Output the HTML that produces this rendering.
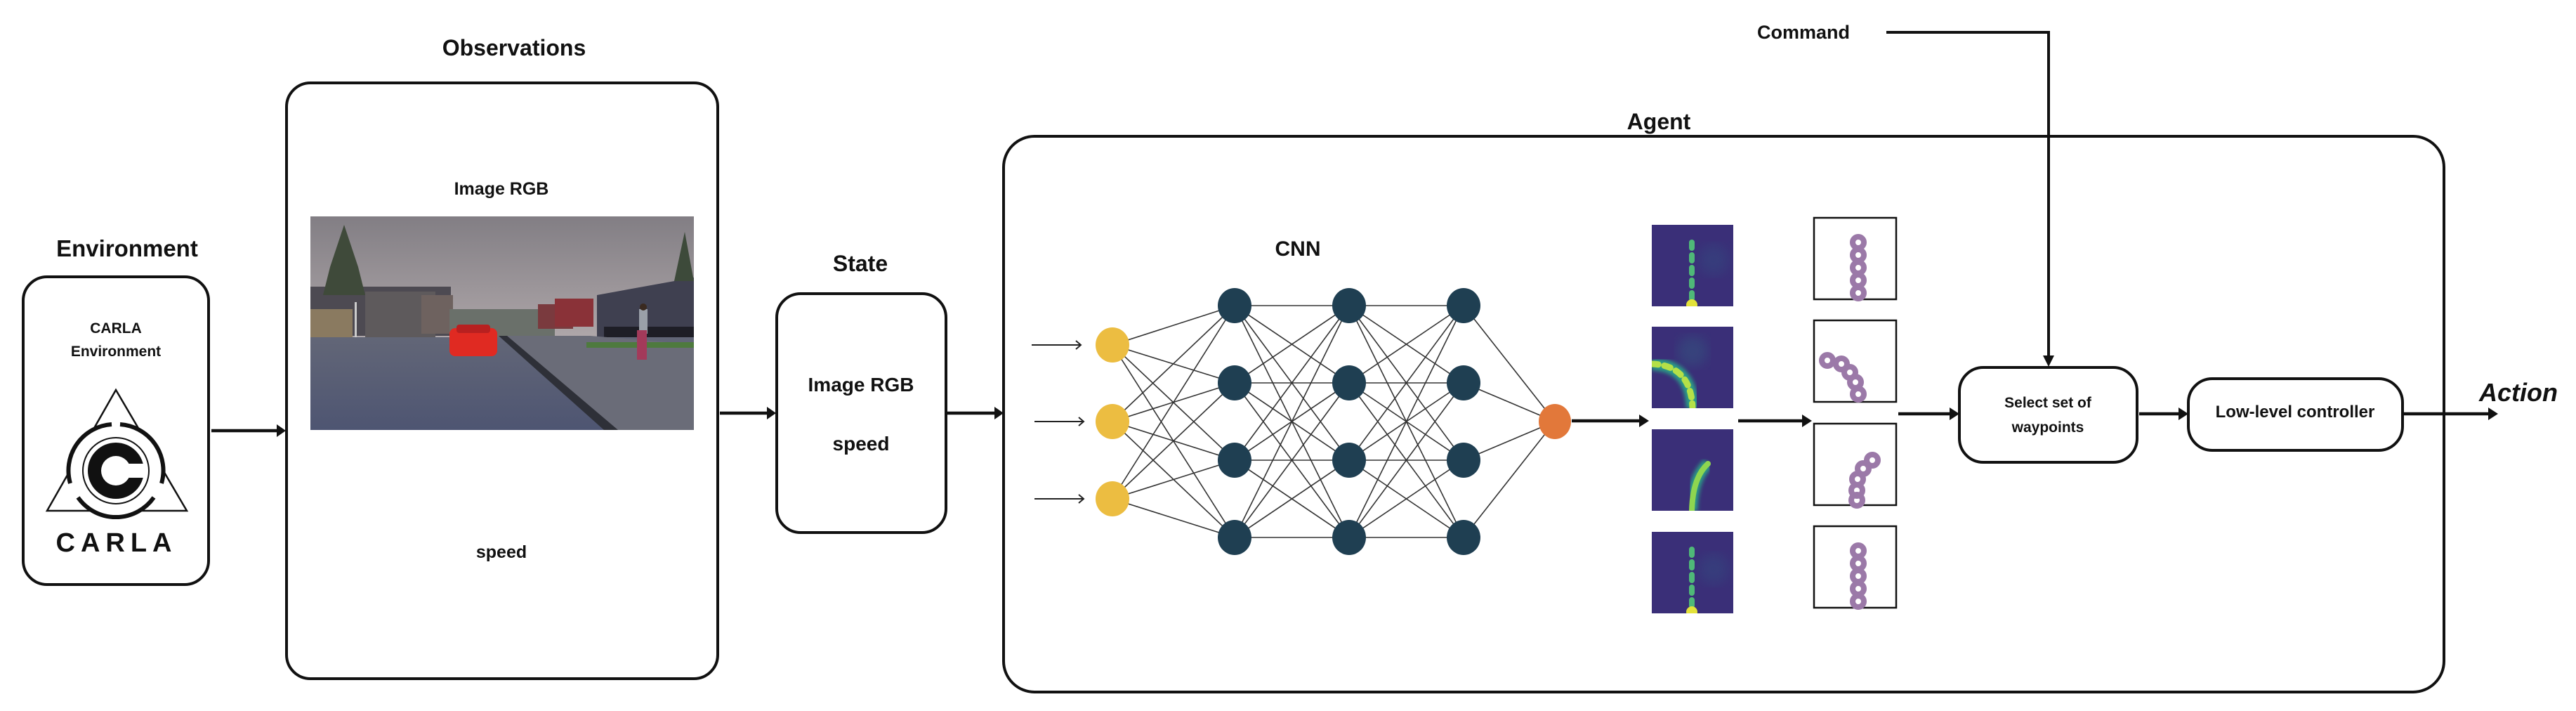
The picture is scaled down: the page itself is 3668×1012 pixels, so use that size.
<!DOCTYPE html>
<html><head><meta charset="utf-8"><style>
html,body{margin:0;padding:0;background:#fff}
svg{display:block}
text{font-family:"Liberation Sans",sans-serif;font-weight:bold;fill:#111}
</style></head><body>
<svg width="3668" height="1012" viewBox="0 0 3668 1012" xmlns="http://www.w3.org/2000/svg">
<defs>
<linearGradient id="sky" x1="0" y1="0" x2="0" y2="1">
<stop offset="0" stop-color="#827e84"/><stop offset="0.5" stop-color="#a8a1a4"/><stop offset="1" stop-color="#dcd2d0"/>
</linearGradient>
<linearGradient id="road" x1="0" y1="0" x2="0" y2="1">
<stop offset="0" stop-color="#626677"/><stop offset="1" stop-color="#4e5572"/>
</linearGradient>
<filter id="blur"><feGaussianBlur stdDeviation="3"/></filter>
<filter id="blur2"><feGaussianBlur stdDeviation="8"/></filter>
<clipPath id="h1"><rect x="2352" y="320" width="116" height="116"/></clipPath>
<clipPath id="h2"><rect x="2352" y="465" width="116" height="116"/></clipPath>
<clipPath id="h3"><rect x="2352" y="611" width="116" height="116"/></clipPath>
<clipPath id="h4"><rect x="2352" y="757" width="116" height="116"/></clipPath>
<clipPath id="ph"><rect x="442" y="308" width="546" height="304"/></clipPath>
</defs>

<text x="732" y="79" font-size="32" text-anchor="middle">Observations</text>
<text x="181" y="365" font-size="33" text-anchor="middle">Environment</text>
<text x="1225" y="386" font-size="32" text-anchor="middle">State</text>
<text x="2362" y="184" font-size="32" text-anchor="middle">Agent</text>
<text x="2568" y="55" font-size="27" text-anchor="middle">Command</text>
<text x="1848" y="364" font-size="30" text-anchor="middle">CNN</text>
<text x="3530" y="571" font-size="36" font-style="italic">Action</text>

<rect x="33" y="394" width="264" height="438" rx="34" fill="none" stroke="#111" stroke-width="4"/>
<text x="165" y="474" font-size="21" text-anchor="middle">CARLA</text>
<text x="165" y="507" font-size="21" text-anchor="middle">Environment</text>
<polygon points="165,555 67,727 266,727" fill="none" stroke="#111" stroke-width="2.5"/>
<circle cx="165" cy="670" r="66" fill="#fff"/>
<g fill="none" stroke="#111" stroke-width="6">
<path d="M 159 604 A 66 66 0 0 0 100 688"/>
<path d="M 111 708 A 66 66 0 0 0 219 708"/>
<path d="M 230 688 A 66 66 0 0 0 171 604"/>
</g>
<circle cx="165" cy="670" r="47" fill="none" stroke="#111" stroke-width="2"/>
<circle cx="165" cy="670" r="40" fill="#111"/>
<circle cx="165" cy="670" r="21" fill="#fff"/>
<rect x="165" y="660" width="42" height="20" fill="#fff"/>
<text x="166" y="785" font-size="38" text-anchor="middle" letter-spacing="8" font-weight="900">CARLA</text>

<rect x="408" y="118" width="614" height="848" rx="34" fill="none" stroke="#111" stroke-width="4"/>
<text x="714" y="277" font-size="25" text-anchor="middle">Image RGB</text>
<text x="714" y="794" font-size="25" text-anchor="middle">speed</text>
<g clip-path="url(#ph)">
<rect x="442" y="308" width="546" height="304" fill="url(#sky)"/>
<rect x="442" y="408" width="200" height="70" fill="#4d4a52"/>
<rect x="520" y="415" width="100" height="65" fill="#5e5a5c"/>
<rect x="600" y="420" width="45" height="55" fill="#6e625f"/>
<rect x="442" y="440" width="60" height="40" fill="#8a7a60"/>
<polygon points="490,320 470,380 460,420 520,420 510,380" fill="#3f4a3a"/>
<rect x="505" y="430" width="3" height="50" fill="#ccc"/>
<rect x="640" y="440" width="150" height="40" fill="#6a706a"/>
<rect x="766" y="433" width="50" height="35" fill="#7a3a3e"/>
<rect x="790" y="425" width="55" height="40" fill="#8a3238"/>
<polygon points="850,420 988,395 988,480 850,480" fill="#3f4050"/>
<rect x="860" y="465" width="128" height="20" fill="#1e1e26"/>
<polygon points="975,330 960,400 988,400" fill="#3d4a3a"/>
<rect x="442" y="480" width="546" height="132" fill="url(#road)"/>
<polygon points="710,478 870,612 988,612 988,490 840,478" fill="#6a6c78"/>
<polygon points="710,478 860,612 880,612 722,478" fill="#2e3038"/>
<rect x="835" y="487" width="153" height="8" fill="#4e7a3e"/>
<rect x="640" y="467" width="68" height="40" rx="8" fill="#e02a22"/>
<rect x="650" y="462" width="48" height="12" rx="4" fill="#b82020"/>
<rect x="910" y="440" width="12" height="35" fill="#9aa0a8"/>
<rect x="907" y="470" width="14" height="42" fill="#a33a5a"/>
<circle cx="916" cy="437" r="5" fill="#3a2a20"/>
</g>

<rect x="1106" y="418" width="241" height="340" rx="34" fill="none" stroke="#111" stroke-width="4"/>
<text x="1226" y="557" font-size="28" text-anchor="middle">Image RGB</text>
<text x="1226" y="641" font-size="28" text-anchor="middle">speed</text>

<rect x="1429" y="194" width="2051" height="791" rx="44" fill="none" stroke="#111" stroke-width="4"/>

<polyline points="2686,46 2917,46 2917,510" fill="none" stroke="#111" stroke-width="4"/>
<polygon points="2909,506 2925,506 2917,522" fill="#111"/>

<g stroke="#111" stroke-width="4.5" fill="none">
<line x1="301" y1="613" x2="396" y2="613"/>
<line x1="1025" y1="588" x2="1094" y2="588"/>
<line x1="1349" y1="588" x2="1418" y2="588"/>
<line x1="2238" y1="599" x2="2336" y2="599"/>
<line x1="2475" y1="599" x2="2568" y2="599"/>
<line x1="2703" y1="589" x2="2778" y2="589"/>
<line x1="3046" y1="589" x2="3104" y2="589"/>
<line x1="3421" y1="589" x2="3545" y2="589"/>
</g>
<g fill="#111">
<polygon points="394,604 407,613 394,622"/>
<polygon points="1092,579 1105,588 1092,597"/>
<polygon points="1416,579 1429,588 1416,597"/>
<polygon points="2334,590 2348,599 2334,608"/>
<polygon points="2566,590 2580,599 2566,608"/>
<polygon points="2776,580 2790,589 2776,598"/>
<polygon points="3102,580 3116,589 3102,598"/>
<polygon points="3543,580 3557,589 3543,598"/>
</g>

<g stroke="#222" stroke-width="2" fill="none">
<line x1="1469" y1="491" x2="1538" y2="491"/><polyline points="1532,485 1539,491 1532,497"/>
<line x1="1473" y1="600" x2="1542" y2="600"/><polyline points="1536,594 1543,600 1536,606"/>
<line x1="1473" y1="710" x2="1542" y2="710"/><polyline points="1536,704 1543,710 1536,716"/>
</g>

<g stroke="#333" stroke-width="1.6">
<line x1="1584" y1="491" x2="1758" y2="435"/><line x1="1584" y1="491" x2="1758" y2="545"/><line x1="1584" y1="491" x2="1758" y2="655"/><line x1="1584" y1="491" x2="1758" y2="765"/>
<line x1="1584" y1="600" x2="1758" y2="435"/><line x1="1584" y1="600" x2="1758" y2="545"/><line x1="1584" y1="600" x2="1758" y2="655"/><line x1="1584" y1="600" x2="1758" y2="765"/>
<line x1="1584" y1="710" x2="1758" y2="435"/><line x1="1584" y1="710" x2="1758" y2="545"/><line x1="1584" y1="710" x2="1758" y2="655"/><line x1="1584" y1="710" x2="1758" y2="765"/>
<line x1="1758" y1="435" x2="1921" y2="435"/><line x1="1758" y1="435" x2="1921" y2="545"/><line x1="1758" y1="435" x2="1921" y2="655"/><line x1="1758" y1="435" x2="1921" y2="765"/>
<line x1="1758" y1="545" x2="1921" y2="435"/><line x1="1758" y1="545" x2="1921" y2="545"/><line x1="1758" y1="545" x2="1921" y2="655"/><line x1="1758" y1="545" x2="1921" y2="765"/>
<line x1="1758" y1="655" x2="1921" y2="435"/><line x1="1758" y1="655" x2="1921" y2="545"/><line x1="1758" y1="655" x2="1921" y2="655"/><line x1="1758" y1="655" x2="1921" y2="765"/>
<line x1="1758" y1="765" x2="1921" y2="435"/><line x1="1758" y1="765" x2="1921" y2="545"/><line x1="1758" y1="765" x2="1921" y2="655"/><line x1="1758" y1="765" x2="1921" y2="765"/>
<line x1="1921" y1="435" x2="2084" y2="435"/><line x1="1921" y1="435" x2="2084" y2="545"/><line x1="1921" y1="435" x2="2084" y2="655"/><line x1="1921" y1="435" x2="2084" y2="765"/>
<line x1="1921" y1="545" x2="2084" y2="435"/><line x1="1921" y1="545" x2="2084" y2="545"/><line x1="1921" y1="545" x2="2084" y2="655"/><line x1="1921" y1="545" x2="2084" y2="765"/>
<line x1="1921" y1="655" x2="2084" y2="435"/><line x1="1921" y1="655" x2="2084" y2="545"/><line x1="1921" y1="655" x2="2084" y2="655"/><line x1="1921" y1="655" x2="2084" y2="765"/>
<line x1="1921" y1="765" x2="2084" y2="435"/><line x1="1921" y1="765" x2="2084" y2="545"/><line x1="1921" y1="765" x2="2084" y2="655"/><line x1="1921" y1="765" x2="2084" y2="765"/>
<line x1="2084" y1="435" x2="2214" y2="600"/><line x1="2084" y1="545" x2="2214" y2="600"/><line x1="2084" y1="655" x2="2214" y2="600"/><line x1="2084" y1="765" x2="2214" y2="600"/>
</g>
<g fill="#ecbd41">
<ellipse cx="1584" cy="491" rx="24" ry="25"/><ellipse cx="1584" cy="600" rx="24" ry="25"/><ellipse cx="1584" cy="710" rx="24" ry="25"/>
</g>
<g fill="#1f3f52">
<ellipse cx="1758" cy="435" rx="24" ry="25"/><ellipse cx="1758" cy="545" rx="24" ry="25"/><ellipse cx="1758" cy="655" rx="24" ry="25"/><ellipse cx="1758" cy="765" rx="24" ry="25"/>
<ellipse cx="1921" cy="435" rx="24" ry="25"/><ellipse cx="1921" cy="545" rx="24" ry="25"/><ellipse cx="1921" cy="655" rx="24" ry="25"/><ellipse cx="1921" cy="765" rx="24" ry="25"/>
<ellipse cx="2084" cy="435" rx="24" ry="25"/><ellipse cx="2084" cy="545" rx="24" ry="25"/><ellipse cx="2084" cy="655" rx="24" ry="25"/><ellipse cx="2084" cy="765" rx="24" ry="25"/>
</g>
<ellipse cx="2214" cy="600" rx="23" ry="25" fill="#e2783a"/>

<g clip-path="url(#h1)">
<rect x="2352" y="320" width="116" height="116" fill="#3a2f78"/>
<circle cx="2440" cy="370" r="22" fill="#34457f" filter="url(#blur2)" opacity="0.6"/>
<line x1="2409" y1="345" x2="2409" y2="436" stroke="#2b7d8a" stroke-width="14" filter="url(#blur)"/>
<line x1="2409" y1="345" x2="2409" y2="436" stroke="#4fb878" stroke-width="8" stroke-dasharray="8 10" stroke-linecap="round"/>
<circle cx="2409" cy="434" r="8" fill="#e3e23a"/>
</g>
<g clip-path="url(#h2)">
<rect x="2352" y="465" width="116" height="116" fill="#3a2f78"/>
<circle cx="2410" cy="500" r="22" fill="#34507f" filter="url(#blur2)" opacity="0.6"/>
<path d="M 2352 518 Q 2408 520 2410 581" fill="none" stroke="#2b9d86" stroke-width="18" filter="url(#blur)"/>
<path d="M 2352 518 Q 2408 520 2410 581" fill="none" stroke="#b4e048" stroke-width="9" stroke-dasharray="9 9" stroke-linecap="round"/>
</g>
<g clip-path="url(#h3)">
<rect x="2352" y="611" width="116" height="116" fill="#3a2f78"/>
<path d="M 2432 660 Q 2410 680 2409 727" fill="none" stroke="#2b9d86" stroke-width="16" filter="url(#blur)"/>
<path d="M 2432 660 Q 2410 680 2409 727" fill="none" stroke="#8ed650" stroke-width="8" stroke-linecap="round"/>
</g>
<g clip-path="url(#h4)">
<rect x="2352" y="757" width="116" height="116" fill="#3a2f78"/>
<circle cx="2440" cy="810" r="22" fill="#34457f" filter="url(#blur2)" opacity="0.6"/>
<line x1="2409" y1="782" x2="2409" y2="873" stroke="#2b7d8a" stroke-width="14" filter="url(#blur)"/>
<line x1="2409" y1="782" x2="2409" y2="873" stroke="#4fb878" stroke-width="8" stroke-dasharray="8 10" stroke-linecap="round"/>
<circle cx="2409" cy="871" r="8" fill="#e3e23a"/>
</g>

<g fill="#fff" stroke="#111" stroke-width="2.5">
<rect x="2583" y="310" width="117" height="116"/>
<rect x="2583" y="456" width="117" height="116"/>
<rect x="2583" y="603" width="117" height="116"/>
<rect x="2583" y="749" width="117" height="116"/>
</g>
<g fill="none" stroke="#9b79a8" stroke-width="8">
<circle cx="2646" cy="345" r="8"/><circle cx="2646" cy="363" r="8"/><circle cx="2646" cy="381" r="8"/><circle cx="2646" cy="399" r="8"/><circle cx="2646" cy="417" r="8"/>
<circle cx="2602" cy="513" r="8"/><circle cx="2622" cy="518" r="8"/><circle cx="2634" cy="530" r="8"/><circle cx="2642" cy="544" r="8"/><circle cx="2646" cy="561" r="8"/>
<circle cx="2666" cy="655" r="8"/><circle cx="2653" cy="667" r="8"/><circle cx="2645" cy="682" r="8"/><circle cx="2644" cy="698" r="8"/><circle cx="2644" cy="712" r="8"/>
<circle cx="2646" cy="784" r="8"/><circle cx="2646" cy="802" r="8"/><circle cx="2646" cy="820" r="8"/><circle cx="2646" cy="838" r="8"/><circle cx="2646" cy="856" r="8"/>
</g>

<rect x="2790" y="523" width="253" height="135" rx="34" fill="#fff" stroke="#111" stroke-width="4"/>
<text x="2916" y="580" font-size="21" text-anchor="middle">Select set of</text>
<text x="2916" y="615" font-size="21" text-anchor="middle">waypoints</text>
<rect x="3116" y="539" width="305" height="102" rx="34" fill="#fff" stroke="#111" stroke-width="4"/>
<text x="3268" y="594" font-size="24" text-anchor="middle">Low-level controller</text>
</svg>
</body></html>
